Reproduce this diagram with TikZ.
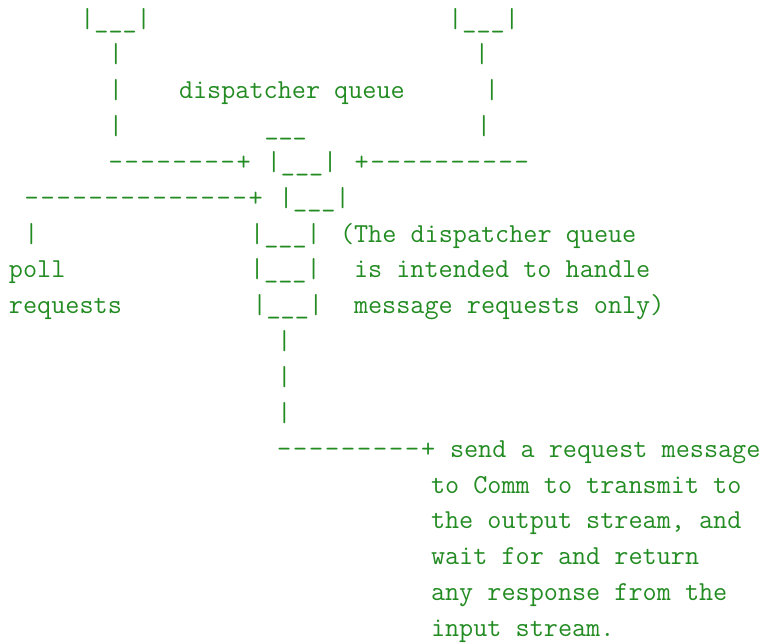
\documentclass[tikz,border=0pt]{standalone}
\usepackage{fontspec}
\usepackage{pgffor}
\definecolor{ink}{RGB}{34,139,34}
\newcommand\asciifont{\ttfamily\fontsize{27.4pt}{36pt}\selectfont\frenchspacing}
% one character cell of the wider connector runs
\newcommand\wcell[1]{\makebox[16pt]{#1}}
\newcommand\hrun[1]{\foreach \k in {1,...,#1}{\wcell{-}}}
% baseline of text row #1 (rows counted from 1 at the top)
\newcommand\rowy[1]{27+35.85*(#1-1)}
\tikzset{
  txt/.style={anchor=base west, inner sep=0pt, outer sep=0pt, text=ink, font=\asciifont},
}
\begin{document}
\begin{tikzpicture}[x=1pt, y=-1pt]
\useasboundingbox (0,0) rectangle (770,643);

% upper two queues and their feeds
\node[txt] (qa)   at (80.3,{\rowy{1}})  {|\_\_\_|};
\node[txt] (qb)   at (448.3,{\rowy{1}}) {|\_\_\_|};
\node[txt] (la2)  at (108.8,{\rowy{2}}) {|};
\node[txt] (lb2)  at (474.8,{\rowy{2}}) {|};
\node[txt] (la3)  at (108.8,{\rowy{3}}) {|};
\node[txt] (lbl)  at (179,{\rowy{3}})   {dispatcher queue};
\node[txt] (lb3)  at (484.8,{\rowy{3}}) {|};
\node[txt] (la4)  at (108.8,{\rowy{4}}) {|};
\node[txt] (top)  at (264.5,{\rowy{4}}) {\_\_\_};
\node[txt] (lb4)  at (476.8,{\rowy{4}}) {|};

% merge into the dispatcher queue
\node[txt] (ra)   at (107.6,{\rowy{5}}) {\hrun{8}\wcell{+}};
\node[txt] (d1)   at (266.8,{\rowy{5}}) {|\_\_\_|};
\node[txt] (rb)   at (353.7,{\rowy{5}}) {\wcell{+}\hrun{10}};
\node[txt] (rp)   at (23.7,{\rowy{6}})  {\hrun{14}\wcell{+}};
\node[txt] (d2)   at (279.1,{\rowy{6}}) {|\_\_\_|};

% poll requests branch and queue body
\node[txt] (lp)   at (24.3,{\rowy{7}})  {|};
\node[txt] (d3)   at (250.2,{\rowy{7}}) {|\_\_\_|};
\node[txt] (n1)   at (340,{\rowy{7}})   {(The dispatcher queue};
\node[txt] (poll) at (9,{\rowy{8}})     {poll};
\node[txt] (d4)   at (250.1,{\rowy{8}}) {|\_\_\_|};
\node[txt] (n2)   at (354,{\rowy{8}})   {is intended to handle};
\node[txt] (req)  at (9,{\rowy{9}})     {requests};
\node[txt] (d5)   at (252.5,{\rowy{9}}) {|\_\_\_|};
\node[txt] (n3)   at (354,{\rowy{9}})   {message requests only)};

% queue output
\node[txt] (o1)   at (277.3,{\rowy{10}}) {|};
\node[txt] (o2)   at (277.3,{\rowy{11}}) {|};
\node[txt] (o3)   at (277.3,{\rowy{12}}) {|};
\node[txt] (ro)   at (276.3,{\rowy{13}}) {\hrun{9}\wcell{+}};
\node[txt] (s1)   at (450,{\rowy{13}})   {send a request message};
\node[txt] (s2)   at (431,{\rowy{14}})   {to Comm to transmit to};
\node[txt] (s3)   at (431,{\rowy{15}})   {the output stream, and};
\node[txt] (s4)   at (431,{\rowy{16}})   {wait for and return};
\node[txt] (s5)   at (431,{\rowy{17}})   {any response from the};
\node[txt] (s6)   at (431,{\rowy{18}})   {input stream.};
\end{tikzpicture}
\end{document}
